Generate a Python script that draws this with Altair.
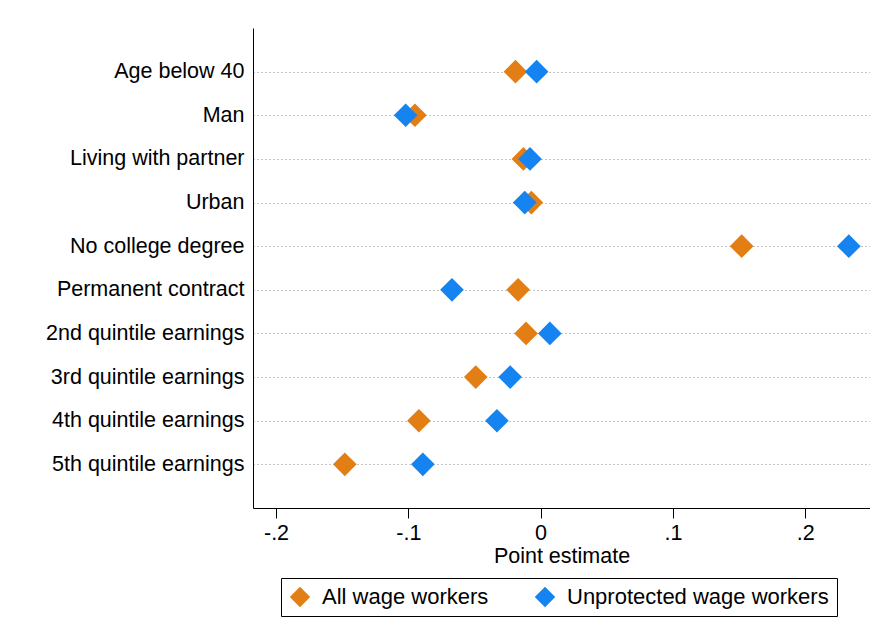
import altair as alt
import pandas as pd

categories = [
    "Age below 40", "Man", "Living with partner", "Urban", "No college degree",
    "Permanent contract", "2nd quintile earnings", "3rd quintile earnings",
    "4th quintile earnings", "5th quintile earnings",
]
all_wage = [-0.019, -0.095, -0.013, -0.007, 0.152, -0.017, -0.011, -0.049, -0.092, -0.148]
unprotected = [-0.003, -0.102, -0.008, -0.012, 0.233, -0.067, 0.007, -0.023, -0.033, -0.089]
series_names = ["All wage workers", "Unprotected wage workers"]
colors = ["#E37E14", "#1583F0"]

rows = []
for c, a, u in zip(categories, all_wage, unprotected):
    rows.append({"cat": c, "series": series_names[0], "value": a})
    rows.append({"cat": c, "series": series_names[1], "value": u})
df = pd.DataFrame(rows)

font = "Liberation Sans"
fs = 21.5

chart = alt.Chart(df).mark_point(shape="diamond", filled=True, opacity=1, size=560).encode(
    x=alt.X("value:Q", scale=alt.Scale(domain=[-0.2174, 0.249], nice=False, zero=False),
            axis=alt.Axis(values=[-0.2, -0.1, 0, 0.1, 0.2],
                          labelExpr="datum.value == 0 ? '0' : replace(replace(format(datum.value, '.1f'), '0.', '.'), '\u2212', '-')",
                          title="Point estimate", grid=False, tickSize=10, tickColor="black",
                          domainColor="black", labelFontSize=fs, titleFontSize=fs, titleFontWeight="normal",
                          labelColor="black", titleColor="black", labelPadding=4, titlePadding=2,
                          labelFont=font, titleFont=font)),
    y=alt.Y("cat:N", sort=categories, scale=alt.Scale(type="point", padding=1.0),
            axis=alt.Axis(title=None, ticks=False, grid=True, gridDash=[1, 3], gridColor="#888888",
                          gridWidth=1, domainColor="black", labelFontSize=fs, labelColor="black",
                          labelPadding=9, labelFont=font, labelLimit=0)),
    color=alt.Color("series:N", scale=alt.Scale(domain=series_names, range=colors),
                    legend=alt.Legend(title=None, orient="none", legendX=28, legendY=550,
                                      direction="horizontal", strokeColor="black", padding=8,
                                      labelFontSize=22, labelFont=font, labelColor="black",
                                      symbolSize=420, symbolType="diamond", columnPadding=45,
                                      labelOffset=11, fillColor="white", labelLimit=0,
                                      labelExpr="datum.label == 'Unprotected wage workers' ? datum.label + '    ' : datum.label")),
).properties(
    width=617, height=480,
    autosize=alt.AutoSizeParams(type="none"),
    padding={"left": 245, "top": 20, "right": 0, "bottom": 112},
).configure_view(stroke=None)

chart.save("out.html", embed_options={"renderer": "svg", "actions": False})
